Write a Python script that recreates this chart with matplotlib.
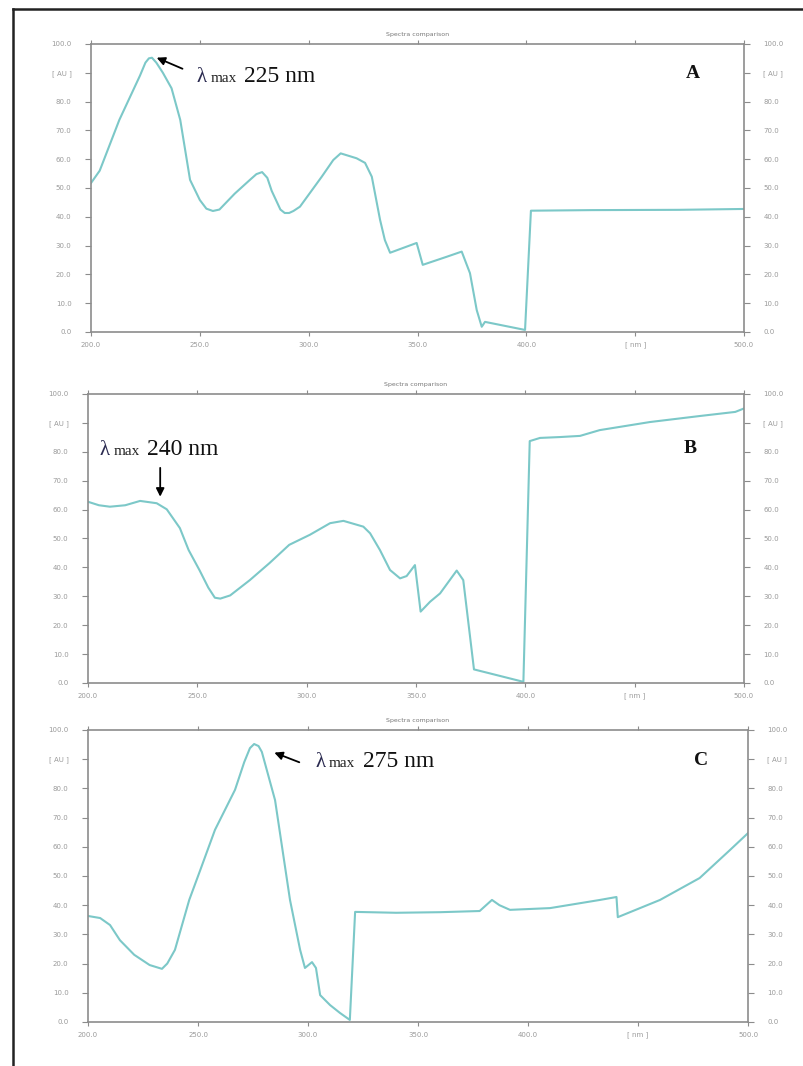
import matplotlib.pyplot as plt
from matplotlib.lines import Line2D

# spectrum A
a_nm = [200, 204, 213, 222.5, 225, 226.6, 228, 230, 233, 237, 241, 245.5, 250, 253, 256, 259,
        266, 273, 276, 278.6, 281, 283, 287, 289, 291, 293, 296, 306, 311.3, 314.7, 322, 325.9,
        329, 332.8, 335, 337.4, 349.6, 352.4, 363.4, 370.3, 374.1, 377.2, 379.5, 381, 399.4,
        402.1, 430, 470, 500]
a_au = [51.7, 56, 73.6, 89, 93.5, 95, 95.2, 93.5, 90, 84.6, 73.6, 52.8, 45.8, 42.8, 42, 42.5,
        48, 52.8, 54.8, 55.5, 53.5, 49, 42.5, 41.3, 41.3, 42, 43.5, 53.9, 59.7, 62, 60.3, 58.7,
        53.9, 38.9, 31.9, 27.5, 30.9, 23.3, 26.1, 27.9, 20.4, 7.6, 1.8, 3.5, 0.7,
        42.1, 42.3, 42.4, 42.7]

# spectrum B
b_nm = [200, 205, 210, 217, 223.8, 231.4, 236, 242, 246, 251, 255, 258, 260.5, 265, 274, 283,
        292, 301.5, 310.7, 316.8, 325.9, 329, 333.5, 338.1, 342.7, 345.7, 349.5, 352.1, 356.4,
        361, 368.6, 371.6, 376.5, 382.3, 399.1, 402, 406.7, 415.8, 425, 434, 457, 480, 496, 500]
b_au = [62.7, 61.5, 61, 61.5, 63, 62.2, 60.1, 53.6, 46, 39, 33, 29.5, 29.2, 30.3, 35.6, 41.5,
        47.8, 51.3, 55.3, 56.1, 54.1, 51.8, 46, 39.1, 36.2, 37, 40.8, 24.7, 28.1,
        31, 38.9, 35.6, 4.7, 3.6, 0.4, 83.7, 84.8, 85.1, 85.5, 87.5, 90.3, 92.4, 93.8, 95]

# spectrum C
c_nm = [200, 205.5, 210, 214.5, 221, 228, 233.6, 236, 239.5, 246, 251, 257.7, 266.8, 271,
        273.6, 275.5, 277.5, 279, 285, 291.8, 296.4, 298.6, 301.8, 303.6, 305.5, 310, 314.5,
        319, 321.4, 340, 360, 378, 383.6, 387, 391.8, 410, 432.7, 440.2, 440.8, 460, 478,
        491.8, 500]
c_au = [36.3, 35.6, 33.2, 28, 23, 19.5, 18.2, 20, 24.7, 41.8, 52, 65.8, 79.5, 89,
        93.8, 95.2, 94.5, 92.5, 76, 41.8, 24.7, 18.5, 20.5, 18.5, 9.2, 5.8, 3.1,
        0.7, 37.7, 37.4, 37.6, 38, 41.8, 40, 38.4, 39, 41.8, 42.8, 35.9, 41.8, 49.3,
        58.9, 64.7]

x_ticks = [200, 250, 300, 350, 400, 450, 500]
x_labels = ['200.0', '250.0', '300.0', '350.0', '400.0', '[ nm ]', '500.0']
y_ticks = [0, 10, 20, 30, 40, 50, 60, 70, 80, 90, 100]
y_labels = ['0.0', '10.0', '20.0', '30.0', '40.0', '50.0', '60.0', '70.0', '80.0', '[ AU ]', '100.0']

panels = [
    # data, rect, letter, peak label, arrow tip, arrow tail, text spot, letter spot
    (a_nm, a_au, [0.1132, 0.6886, 0.8122, 0.2702], 'A', '225 nm', (229, 95.6), (0.144, 0.910),
     (0.162, 0.869), (0.922, 0.896)),
    (b_nm, b_au, [0.1095, 0.3593, 0.8159, 0.2711], 'B', '240 nm', (233, 63.5), (0.110, 0.754),
     (0.018, 0.789), (0.918, 0.813)),
    (c_nm, c_au, [0.1095, 0.0413, 0.8209, 0.2739], 'C', '275 nm', (283.5, 92.6), (0.324, 0.886),
     (0.344, 0.874), (0.929, 0.897)),
]

fig = plt.figure(figsize=(8.04, 10.66), dpi=100)
grey = '#8c8c8c'
serif = ['Liberation Serif', 'DejaVu Serif']

for nm, au, rect, letter, peak, tip, tail, tpos, lpos in panels:
    ax = fig.add_axes(rect)
    ax.plot(nm, au, color='#7cc8c8', lw=1.5)
    ax.set_xlim(200, 500)
    ax.set_ylim(0, 100)
    ax.set_xticks(x_ticks)
    ax.set_xticklabels(x_labels)
    ax.set_yticks(y_ticks)
    ax.set_yticklabels(y_labels)
    ax.tick_params(direction='out', length=4, width=0.8, color=grey, labelsize=5,
                   labelcolor='#9a9a9a', top=True, right=True, labelright=True)
    ax.tick_params(axis='x', which='both', top=True, length=3)
    ax.tick_params(axis='y', pad=10)
    ax.tick_params(axis='x', pad=4)
    for s in ax.spines.values():
        s.set_color(grey)
        s.set_linewidth(1.2)
    ax.set_title('Spectra comparison', fontsize=4.5, color='#777777', pad=6)

    ax.annotate('', xy=tip, xytext=tail, textcoords='axes fraction',
                arrowprops=dict(arrowstyle='-|>', color='black', lw=1.3, mutation_scale=12))
    x0, y0 = tpos
    ax.text(x0, y0, '\u03bb', transform=ax.transAxes, fontsize=15, family=serif,
            color='#2a2a50', va='baseline')
    ax.text(x0 + 0.021, y0, 'max', transform=ax.transAxes, fontsize=11, family=serif,
            color='#222222', va='baseline')
    ax.text(x0 + 0.072, y0, peak, transform=ax.transAxes, fontsize=17, family=serif,
            color='#111111', va='baseline')
    ax.text(lpos[0], lpos[1], letter, transform=ax.transAxes, fontsize=14, family=serif,
            weight='bold', ha='center', va='center', color='#111111')

# page frame (left and top edges)
fig.add_artist(Line2D([0.0162, 0.0162], [0, 0.9916], transform=fig.transFigure,
                      color='#222222', lw=1.8))
fig.add_artist(Line2D([0.0162, 1.0], [0.9916, 0.9916], transform=fig.transFigure,
                      color='#222222', lw=1.8))

fig.savefig('out.png', dpi=100)
